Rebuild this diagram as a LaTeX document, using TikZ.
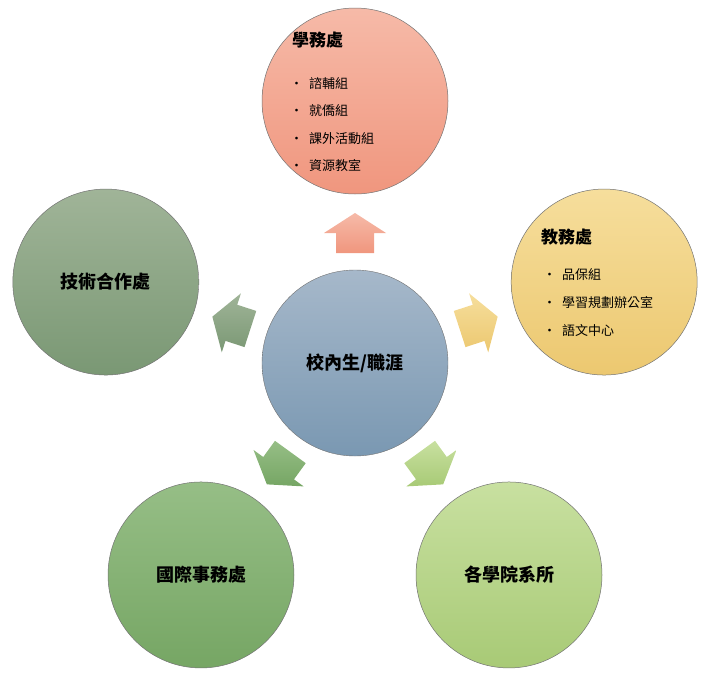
\documentclass[tikz,border=0pt]{standalone}
\usepackage{fontspec}
\usetikzlibrary{calc}
\setmainfont{Noto Sans CJK TC}
\begin{document}
\begin{tikzpicture}[x=1pt,y=-1pt,
  ttl/.style={font=\fontsize{17}{20}\selectfont\bfseries,anchor=west,inner sep=0pt},
  itm/.style={font=\fontsize{13}{16}\selectfont,anchor=west,inner sep=0pt},
  bigt/.style={font=\fontsize{18}{22}\selectfont\bfseries}]
\useasboundingbox (0,0) rectangle (714,680);
\coordinate (c) at (355,363);
\shade[top color={rgb,255:red,166;green,184;blue,202},bottom color={rgb,255:red,122;green,152;blue,178},draw=black!55] (c) circle (93);
\node[bigt] (ctrt) at (c) {校內生/職涯};
\foreach \a/\tc/\bc/\nm in {
  90/{rgb,255:red,246;green,186;blue,168}/{rgb,255:red,240;green,150;blue,126}/top,
  18/{rgb,255:red,246;green,222;blue,156}/{rgb,255:red,236;green,200;blue,112}/rt,
  162/{rgb,255:red,160;green,180;blue,152}/{rgb,255:red,122;green,152;blue,116}/lt,
  234/{rgb,255:red,150;green,190;blue,134}/{rgb,255:red,118;green,166;blue,100}/bl,
  306/{rgb,255:red,200;green,224;blue,160}/{rgb,255:red,168;green,202;blue,118}/br}{
  \coordinate (\nm) at ($(c)+({262*cos(\a)},{-262*sin(\a)})$);
  \shade[top color=\tc,bottom color=\bc,draw=black!55,line width=0.5pt] (\nm) circle (93);
  \begin{scope}[shift={(c)},rotate=\a-90]
    \shade[top color=\tc,bottom color=\bc] (-19,-110) -- (19,-110) -- (19,-130) -- (31,-130) -- (0,-150) -- (-31,-130) -- (-19,-130) -- cycle;
  \end{scope}
}
\node[ttl] (t1) at (292,40) {學務處};
\foreach \y/\t [count=\i] in {84/諮輔組,111/就僑組,139/課外活動組,166/資源教室}{
  \node[itm] (ta\i) at (290,\y) {•\hspace{6pt}\t};}
\node[ttl] (t2) at (541,237) {教務處};
\foreach \y/\t [count=\i] in {275/品保組,303/學習規劃辦公室,331/語文中心}{
  \node[itm] (tb\i) at (543,\y) {•\hspace{6pt}\t};}
\node[bigt] (t3) at (lt) {技術合作處};
\node[bigt] (t4) at (bl) {國際事務處};
\node[bigt] (t5) at (br) {各學院系所};
\end{tikzpicture}
\end{document}
